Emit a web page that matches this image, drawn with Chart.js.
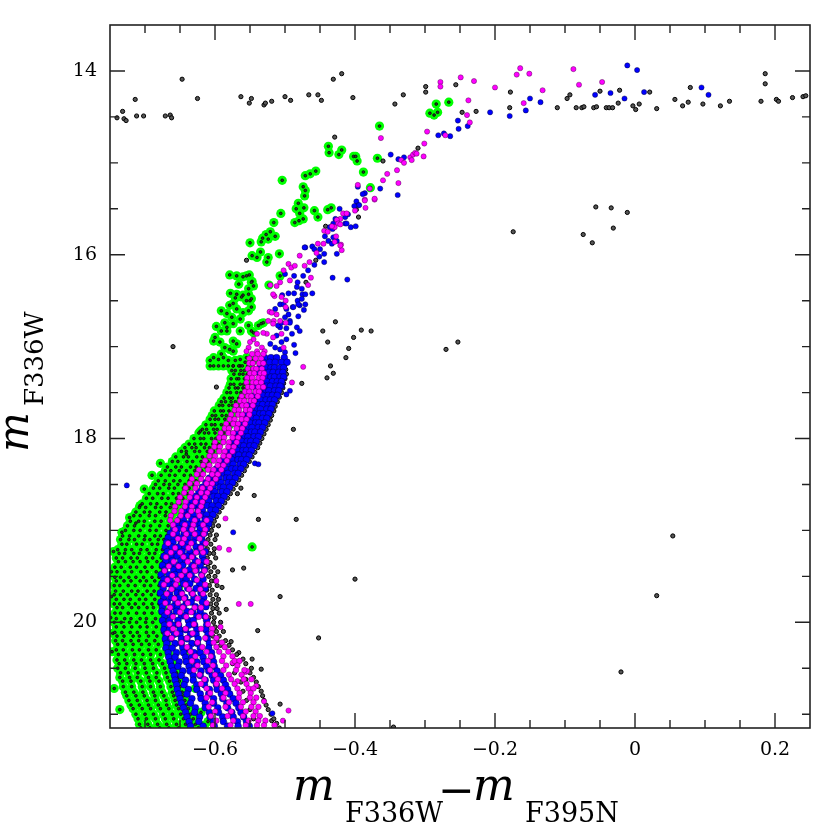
<!DOCTYPE html>
<html><head><meta charset="utf-8">
<script src="https://cdn.jsdelivr.net/npm/chart.js@4.4.0/dist/chart.umd.min.js"></script>
<style>html,body{margin:0;padding:0;background:#fff;}canvas{display:block;}</style>
</head><body>
<canvas id="c" width="830" height="837"></canvas>
<script>
// ---- axis definitions ----
const xRange=[-0.75,0.25];
const yRange=[13.5,21.15];
const xMajorTicks=[-0.6,-0.4,-0.2,0,0.2];
const xTickLabels=['\u22120.6','\u22120.4','\u22120.2','0','0.2'];
const xMinorTicks=[-0.7,-0.65,-0.55,-0.5,-0.45,-0.35,-0.3,-0.25,-0.15,-0.1,-0.05,0.05,0.1,0.15];
const yMajorTicks=[14,16,18,20];
const yTickLabels=['14','16','18','20'];
const yMinorTicks=[14.5,15,15.5,16.5,17,17.5,18.5,19,19.5,20.5,21];

// ---- sparse stars [x,y] ----
const blackPts=[[-0.740,14.51],[-0.732,14.44],[-0.730,14.52],[-0.727,14.54],[-0.714,14.31],[-0.712,14.49],[-0.702,14.49],[-0.671,14.49],[-0.664,14.48],[-0.662,14.51],[-0.647,14.09],[-0.625,14.30],[-0.563,14.28],[-0.551,14.35],[-0.548,14.30],[-0.530,14.37],[-0.528,14.35],[-0.519,14.33],[-0.500,14.28],[-0.492,14.32],[-0.466,14.26],[-0.453,14.26],[-0.448,14.32],[-0.431,14.09],[-0.419,14.03],[-0.403,14.29],[-0.343,14.36],[-0.331,14.26],[-0.299,14.17],[-0.299,14.23],[-0.256,14.15],[-0.247,14.45],[-0.227,14.44],[-0.178,14.23],[-0.179,14.40],[-0.111,14.40],[-0.097,14.30],[-0.093,14.26],[-0.084,14.40],[-0.076,14.40],[-0.073,14.39],[-0.050,14.22],[-0.059,14.40],[-0.055,14.39],[-0.041,14.40],[-0.037,14.40],[-0.032,14.40],[-0.024,14.35],[-0.022,14.21],[-0.003,14.38],[0.001,14.42],[0.006,14.36],[0.021,14.23],[0.031,14.41],[0.057,14.31],[0.068,14.38],[0.076,14.34],[0.079,14.18],[0.097,14.36],[0.122,14.38],[0.135,14.33],[0.180,14.33],[0.186,14.03],[0.186,14.14],[0.202,14.31],[0.205,14.33],[0.225,14.29],[0.240,14.28],[0.244,14.27],
[-0.429,14.72],[-0.360,14.98],[-0.310,14.84],[-0.442,15.69],[-0.395,15.59],[-0.398,15.51],[-0.056,15.48],[-0.034,15.49],[-0.011,15.54],[-0.074,15.78],[-0.061,15.87],[-0.031,15.71],[-0.174,15.75],[-0.555,16.06],[-0.456,16.06],[-0.470,16.30],
[-0.660,17.00],[-0.428,16.73],[-0.446,16.83],[-0.439,16.95],[-0.402,16.90],[-0.409,17.02],[-0.413,17.12],[-0.435,17.21],[-0.440,17.34],[-0.431,17.29],[-0.476,17.40],[-0.488,17.90],[-0.598,17.44],[-0.391,16.82],[-0.377,16.83],[-0.270,17.03],[-0.253,16.95],
[-0.568,18.60],[-0.544,18.62],[-0.538,18.88],[-0.484,18.88],[-0.559,19.41],[-0.575,19.43],[-0.400,19.53],[-0.507,19.72],[-0.539,20.09],[-0.452,20.17],[-0.547,20.40],[-0.534,20.51],[-0.507,20.89],[-0.519,21.07],[0.054,19.06],[0.031,19.71],[-0.020,20.54],[-0.563,18.54],[-0.345,21.14],[-0.590,19.62],[-0.584,19.86],[-0.577,20.21],[-0.566,20.33],[-0.556,20.62]];

const greenPts=[[-0.284,14.36],[-0.293,14.46],[-0.287,14.48],[-0.282,14.45],[-0.266,14.34],[-0.365,14.60],[-0.438,14.82],[-0.437,14.89],[-0.423,14.91],[-0.419,14.86],[-0.402,14.93],[-0.399,14.93],[-0.397,14.98],[-0.368,14.95],[-0.388,15.10],[-0.378,15.27],[-0.504,15.19],[-0.471,15.14],[-0.464,15.12],[-0.456,15.09],[-0.474,15.26],[-0.471,15.30],[-0.472,15.36],[-0.481,15.44],[-0.484,15.50],[-0.473,15.49],[-0.479,15.55],[-0.474,15.61],[-0.486,15.65],[-0.480,15.63],[-0.506,15.55],[-0.458,15.52],[-0.453,15.59],[-0.439,15.51],[-0.434,15.49],[-0.516,15.65],
[-0.521,15.75],[-0.527,15.78],[-0.514,15.80],[-0.532,15.82],[-0.524,15.83],[-0.534,15.86],[-0.550,15.87],[-0.535,15.97],[-0.540,16.03],[-0.547,16.01],[-0.524,16.03],[-0.508,15.99],[-0.526,16.08],[-0.507,16.23],
[-0.579,16.22],[-0.569,16.23],[-0.560,16.24],[-0.551,16.22],[-0.566,16.32],[-0.547,16.29],[-0.545,16.34],[-0.552,16.37],[-0.523,16.33],[-0.555,16.23],[-0.548,16.30],
[-0.578,16.42],[-0.569,16.43],[-0.560,16.44],[-0.552,16.43],[-0.555,16.50],[-0.550,16.50],[-0.562,16.46],[-0.548,16.48],[-0.571,16.47],[-0.591,16.61],[-0.579,16.55],[-0.574,16.53],[-0.569,16.59],[-0.583,16.64],[-0.576,16.68],[-0.564,16.70],[-0.574,16.75],[-0.583,16.79],[-0.598,16.78],[-0.591,16.83],[-0.534,16.75],[-0.560,16.63],[-0.552,16.61],[-0.548,16.57],[-0.586,16.74],[-0.583,16.83],[-0.564,16.83],[-0.545,16.85],[-0.538,16.77],[-0.531,16.74],[-0.552,16.77],[-0.548,16.83],
[-0.600,16.90],[-0.602,16.94],[-0.593,16.95],[-0.586,17.01],[-0.579,17.03],[-0.574,17.05],[-0.574,16.94],[-0.569,16.97],[-0.602,17.12],[-0.595,17.14],[-0.588,17.12],[-0.581,17.15],[-0.571,17.15],[-0.564,17.14],[-0.595,17.21],[-0.602,17.21],[-0.591,17.08],[-0.557,17.17],[-0.550,17.19],[-0.564,17.21],[-0.574,17.21],[-0.581,17.21],[-0.588,17.21],[-0.607,17.15],[-0.607,17.21],[-0.555,17.12],[-0.545,17.15],
[-0.621,17.92],[-0.641,18.17],[-0.678,18.27],[-0.690,18.40],[-0.701,18.55],[-0.707,18.73],[-0.713,18.92],[-0.745,19.23],[-0.547,19.18],[-0.610,21.08],[-0.615,21.12],[-0.620,20.98],[-0.652,19.62],[-0.640,20.31],[-0.628,20.72],
[-0.748,19.45],[-0.749,19.95],[-0.747,20.32],[-0.744,20.72],[-0.736,20.95],[-0.748,19.72],[-0.746,20.12],[-0.722,18.86],[-0.733,19.02]];

const magentaPts=[[-0.278,14.12],[-0.278,14.17],[-0.249,14.07],[-0.230,14.11],[-0.238,14.32],[-0.240,14.48],[-0.236,14.56],[-0.271,14.70],[-0.200,14.18],[-0.169,14.04],[-0.164,13.97],[-0.151,14.03],[-0.159,14.35],[-0.132,14.21],[-0.088,13.98],[-0.080,14.15],[-0.047,14.12],
[-0.363,14.73],[-0.334,14.97],[-0.330,15.00],[-0.321,14.94],[-0.317,14.91],[-0.314,14.89],[-0.319,14.97],[-0.312,14.90],[-0.301,14.79],[-0.297,14.66],[-0.302,14.93],
[-0.396,15.24],[-0.379,15.28],[-0.360,15.19],[-0.354,15.12],[-0.340,15.08],[-0.338,15.22],[-0.386,15.40],[-0.372,15.40],[-0.372,15.39],[-0.386,15.41],[-0.385,15.49],[-0.400,15.52],[-0.417,15.55],[-0.412,15.55],[-0.421,15.61],[-0.426,15.62],[-0.424,15.66],[-0.421,15.67],[-0.429,15.70],[-0.433,15.69],[-0.444,15.74],[-0.439,15.75],[-0.427,15.80],[-0.429,15.86],[-0.420,15.89],[-0.419,15.95],[-0.445,15.88],[-0.453,15.88],[-0.455,15.98],[-0.421,15.90],
[-0.465,16.08],[-0.479,16.01],[-0.472,16.12],[-0.463,16.25],[-0.495,16.10],[-0.502,16.17],[-0.491,16.14],[-0.486,16.12],[-0.493,16.28],[-0.507,16.30],[-0.512,16.34],[-0.521,16.33],[-0.467,16.33],[-0.515,16.45],[-0.499,16.50],[-0.499,16.57],[-0.522,16.62],[-0.516,16.72],[-0.507,16.72],[-0.499,16.74],[-0.517,16.75],[-0.517,16.43],[-0.505,16.46],[-0.512,16.65],[-0.519,16.63],[-0.524,16.72],
[-0.517,16.90],[-0.526,16.86],[-0.531,16.85],[-0.540,16.86],[-0.545,16.92],[-0.550,16.95],[-0.540,16.97],[-0.533,17.01],[-0.529,17.05],[-0.540,17.05],[-0.552,17.01],[-0.555,17.05],[-0.502,17.01],[-0.505,16.86],[-0.474,17.22],[-0.490,17.39],
[-0.585,18.87],[-0.580,19.21],[-0.594,19.19],[-0.566,19.80],[-0.549,19.80],[-0.568,20.64],[-0.556,20.54],[-0.554,20.53],[-0.541,20.69],[-0.530,20.86],[-0.495,20.96],[-0.503,21.07],[-0.598,19.55],[-0.592,20.05],[-0.575,20.44]];

const bluePts=[[-0.253,14.54],[-0.252,14.63],[-0.239,14.60],[-0.207,14.45],[-0.179,14.49],[-0.156,14.43],[-0.150,14.30],[-0.135,14.34],[-0.057,14.26],[-0.035,14.24],[-0.015,14.30],[-0.011,13.94],[0.003,13.99],[0.013,14.23],[0.095,14.18],[0.105,14.26],
[-0.349,14.91],[-0.338,14.96],[-0.330,14.94],[-0.281,14.70],[-0.273,14.68],[-0.264,14.71],
[-0.396,15.26],[-0.386,15.33],[-0.389,15.34],[-0.364,15.28],[-0.339,15.35],[-0.398,15.42],[-0.395,15.46],[-0.394,15.46],[-0.401,15.47],[-0.422,15.50],[-0.410,15.56],[-0.414,15.59],[-0.428,15.61],[-0.414,15.66],[-0.431,15.66],[-0.436,15.70],[-0.432,15.72],[-0.412,15.66],[-0.406,15.70],[-0.399,15.69],[-0.443,15.80],[-0.438,15.85],[-0.431,15.81],[-0.426,15.85],[-0.433,15.88],[-0.426,15.99],[-0.450,15.94],[-0.444,15.99],[-0.451,16.02],[-0.461,15.91],[-0.471,15.92],[-0.458,15.94],[-0.472,15.92],
[-0.467,16.17],[-0.474,16.23],[-0.458,16.11],[-0.444,16.08],[-0.411,16.27],[-0.432,16.25],[-0.500,16.21],[-0.487,16.23],[-0.482,16.30],[-0.483,16.35],[-0.476,16.37],[-0.504,16.44],[-0.495,16.42],[-0.487,16.42],[-0.475,16.43],[-0.461,16.42],[-0.482,16.50],[-0.507,16.54],[-0.489,16.57],[-0.479,16.55],[-0.471,16.54],[-0.473,16.60],[-0.514,16.59],[-0.493,16.72],[-0.481,16.67],[-0.507,16.79],[-0.498,16.80],
[-0.502,16.54],[-0.498,16.59],[-0.510,16.77],[-0.505,16.74],[-0.500,16.68],[-0.495,16.65],[-0.488,16.57],[-0.481,16.54],[-0.476,16.48],[-0.471,16.43],[-0.493,16.74],[-0.483,16.79],[-0.479,16.83],[-0.490,16.86],[-0.498,16.92],[-0.505,16.95],[-0.512,16.88],[-0.521,16.97],[-0.514,17.01],[-0.507,17.03],[-0.500,17.06],[-0.487,16.98],[-0.485,17.07],[-0.493,17.48],[-0.498,17.52],[-0.504,17.43],
[-0.543,18.27],[-0.538,18.28],[-0.726,18.51],[-0.574,19.02],[-0.518,20.99]];

// ---- dense main sequence: rows of [magnitude, colour values] ----
const greenRows=[
[17.21,[-0.574,-0.566,-0.561,-0.553]],[17.26,[-0.576,-0.571,-0.563,-0.558,-0.551]],[17.30,[-0.573,-0.565,-0.560,-0.554]],[17.35,[-0.577,-0.569,-0.566,-0.558,-0.552]],[17.41,[-0.578,-0.573,-0.564,-0.559,-0.553]],[17.45,[-0.580,-0.571,-0.567,-0.560,-0.555]],[17.50,[-0.583,-0.578,-0.569,-0.563,-0.557]],[17.56,[-0.587,-0.579,-0.575,-0.566,-0.560]],[17.60,[-0.591,-0.585,-0.577,-0.571,-0.564]],[17.64,[-0.594,-0.589,-0.580,-0.575,-0.567]],[17.70,[-0.601,-0.592,-0.588,-0.580,-0.573,-0.569]],[17.75,[-0.604,-0.599,-0.590,-0.584,-0.576]],[17.79,[-0.607,-0.600,-0.595,-0.586,-0.579,-0.575]],[17.85,[-0.613,-0.605,-0.600,-0.591,-0.585,-0.579]],[17.90,[-0.618,-0.612,-0.602,-0.597,-0.588,-0.583]],[17.94,[-0.623,-0.615,-0.609,-0.600,-0.593,-0.587]],
[18.00,[-0.630,-0.621,-0.616,-0.605,-0.599,-0.591]],[18.06,[-0.637,-0.629,-0.620,-0.613,-0.603,-0.595]],[18.10,[-0.643,-0.633,-0.627,-0.615,-0.608,-0.598]],[18.14,[-0.648,-0.641,-0.629,-0.622,-0.611,-0.602]],[18.20,[-0.656,-0.645,-0.638,-0.626,-0.618,-0.608]],[18.25,[-0.661,-0.653,-0.640,-0.632,-0.620,-0.610]],[18.31,[-0.668,-0.656,-0.648,-0.635,-0.627,-0.614]],[18.35,[-0.671,-0.663,-0.651,-0.641,-0.629,-0.619]],[18.40,[-0.677,-0.665,-0.657,-0.644,-0.635,-0.622]],[18.46,[-0.681,-0.671,-0.659,-0.650,-0.637,-0.627]],[18.50,[-0.685,-0.673,-0.665,-0.653,-0.643,-0.632]],[18.54,[-0.688,-0.679,-0.666,-0.658,-0.645,-0.637]],[18.60,[-0.694,-0.682,-0.674,-0.660,-0.652,-0.640]],[18.65,[-0.698,-0.689,-0.676,-0.667,-0.655,-0.646]],[18.71,[-0.704,-0.692,-0.683,-0.670,-0.662,-0.650]],[18.75,[-0.708,-0.699,-0.685,-0.677,-0.664,-0.655]],[18.80,[-0.713,-0.701,-0.693,-0.679,-0.670,-0.657]],[18.84,[-0.716,-0.707,-0.694,-0.685,-0.671,-0.662]],[18.90,[-0.721,-0.709,-0.701,-0.686,-0.677,-0.664]],[18.95,[-0.725,-0.715,-0.702,-0.692,-0.679,-0.667]],
[19.00,[-0.728,-0.716,-0.707,-0.693,-0.684,-0.670]],[19.06,[-0.732,-0.722,-0.709,-0.700,-0.686,-0.678,-0.669]],[19.10,[-0.735,-0.723,-0.715,-0.701,-0.693,-0.681,-0.673]],[19.15,[-0.733,-0.726,-0.712,-0.704,-0.690,-0.682,-0.670]],[19.21,[-0.739,-0.728,-0.719,-0.706,-0.697,-0.684,-0.675]],[19.25,[-0.737,-0.729,-0.716,-0.708,-0.694,-0.686,-0.672]],[19.30,[-0.741,-0.732,-0.720,-0.711,-0.698,-0.689,-0.677]],[19.34,[-0.738,-0.728,-0.717,-0.707,-0.696,-0.683,-0.674]],[19.40,[-0.743,-0.734,-0.721,-0.712,-0.700,-0.690,-0.678]],[19.45,[-0.740,-0.729,-0.719,-0.706,-0.697,-0.684,-0.675]],[19.51,[-0.743,-0.735,-0.723,-0.713,-0.702,-0.690,-0.680]],[19.55,[-0.741,-0.730,-0.720,-0.707,-0.698,-0.686,-0.676]],[19.60,[-0.744,-0.736,-0.724,-0.714,-0.701,-0.692,-0.680]],[19.66,[-0.742,-0.731,-0.719,-0.710,-0.697,-0.687,-0.677]],[19.70,[-0.744,-0.735,-0.725,-0.713,-0.703,-0.691,-0.681]],[19.75,[-0.741,-0.730,-0.721,-0.708,-0.699,-0.686,-0.676]],[19.80,[-0.744,-0.736,-0.723,-0.714,-0.702,-0.690,-0.680]],[19.84,[-0.740,-0.732,-0.719,-0.709,-0.697,-0.688,-0.675]],[19.90,[-0.743,-0.735,-0.724,-0.712,-0.701,-0.690,-0.678]],[19.96,[-0.741,-0.729,-0.720,-0.707,-0.698,-0.685,-0.674]],
[20.00,[-0.744,-0.734,-0.722,-0.712,-0.699,-0.689,-0.676]],[20.05,[-0.741,-0.730,-0.719,-0.707,-0.697,-0.684,-0.673]],[20.11,[-0.743,-0.733,-0.721,-0.711,-0.698,-0.688,-0.675]],[20.15,[-0.740,-0.730,-0.717,-0.708,-0.695,-0.683,-0.671]],[20.20,[-0.742,-0.732,-0.720,-0.709,-0.698,-0.686,-0.673]],[20.24,[-0.739,-0.728,-0.717,-0.705,-0.694,-0.681,-0.669]],[20.30,[-0.741,-0.731,-0.718,-0.708,-0.695,-0.684,-0.670]],[20.35,[-0.738,-0.727,-0.715,-0.703,-0.692,-0.678,-0.666]],[20.41,[-0.740,-0.729,-0.716,-0.705,-0.692,-0.680,-0.664]],[20.45,[-0.737,-0.726,-0.713,-0.701,-0.689,-0.675,-0.661]],[20.50,[-0.739,-0.728,-0.714,-0.700,-0.688,-0.672,-0.658]],[20.55,[-0.735,-0.724,-0.710,-0.698,-0.683,-0.670,-0.655]],[20.60,[-0.736,-0.722,-0.711,-0.695,-0.684,-0.668,-0.653]],[20.64,[-0.732,-0.720,-0.706,-0.693,-0.680,-0.665,-0.651]],[20.70,[-0.731,-0.719,-0.704,-0.692,-0.678,-0.663,-0.650]],[20.76,[-0.728,-0.716,-0.703,-0.688,-0.676,-0.661,-0.647]],[20.80,[-0.726,-0.713,-0.701,-0.686,-0.673,-0.659,-0.645]],[20.85,[-0.723,-0.711,-0.697,-0.685,-0.670,-0.657,-0.643]],[20.90,[-0.720,-0.708,-0.695,-0.681,-0.669,-0.655,-0.641]],[20.94,[-0.717,-0.704,-0.692,-0.678,-0.666,-0.652,-0.638]],[21.00,[-0.713,-0.700,-0.688,-0.674,-0.661,-0.649,-0.635]],[21.05,[-0.710,-0.698,-0.685,-0.671,-0.659,-0.645,-0.631]],[21.11,[-0.708,-0.696,-0.682,-0.669,-0.655,-0.642,-0.628]],[21.15,[-0.706,-0.693,-0.679,-0.666,-0.652,-0.638,-0.624]]];

const magentaRows=[
[17.08,[-0.547,-0.539,-0.531]],[17.13,[-0.551,-0.542,-0.534]],[17.18,[-0.551,-0.546,-0.537,-0.531]],[17.24,[-0.553,-0.545,-0.541,-0.533]],[17.29,[-0.550,-0.544,-0.535,-0.530]],[17.34,[-0.554,-0.547,-0.538,-0.532]],[17.39,[-0.555,-0.546,-0.541,-0.534]],[17.44,[-0.553,-0.547,-0.538,-0.531]],[17.49,[-0.557,-0.551,-0.542,-0.537]],[17.54,[-0.562,-0.553,-0.548,-0.539]],[17.59,[-0.564,-0.558,-0.549,-0.544]],[17.64,[-0.570,-0.561,-0.555,-0.546]],[17.69,[-0.572,-0.566,-0.556,-0.550]],[17.74,[-0.577,-0.567,-0.561,-0.551]],[17.79,[-0.579,-0.572,-0.562,-0.555]],[17.84,[-0.584,-0.574,-0.567,-0.557]],[17.89,[-0.586,-0.580,-0.569,-0.561]],[17.94,[-0.592,-0.581,-0.574,-0.563]],[17.99,[-0.594,-0.587,-0.575,-0.567]],
[18.04,[-0.600,-0.588,-0.580,-0.569]],[18.09,[-0.601,-0.593,-0.581,-0.573]],[18.14,[-0.606,-0.594,-0.586,-0.575]],[18.19,[-0.608,-0.600,-0.588,-0.580]],[18.24,[-0.614,-0.602,-0.594,-0.583]],[18.29,[-0.617,-0.608,-0.596,-0.588]],[18.34,[-0.623,-0.610,-0.602,-0.591]],[18.39,[-0.626,-0.617,-0.604,-0.596]],[18.44,[-0.633,-0.620,-0.610,-0.599]],[18.49,[-0.636,-0.626,-0.612,-0.604]],[18.54,[-0.642,-0.628,-0.618,-0.607]],[18.59,[-0.644,-0.634,-0.620,-0.611]],[18.64,[-0.650,-0.636,-0.626,-0.614]],[18.69,[-0.652,-0.642,-0.628,-0.618]],[18.74,[-0.657,-0.643,-0.633,-0.620]],[18.79,[-0.658,-0.648,-0.634,-0.624]],[18.84,[-0.663,-0.649,-0.639,-0.622]],[18.89,[-0.664,-0.654,-0.629,-0.612]],[18.94,[-0.660,-0.643,-0.631,-0.617]],[18.99,[-0.657,-0.645,-0.633,-0.614]],
[19.04,[-0.660,-0.641,-0.629,-0.616]],[19.09,[-0.653,-0.644,-0.622]],[19.14,[-0.667,-0.647,-0.634,-0.613]],[19.19,[-0.657,-0.638,-0.620]],[19.24,[-0.663,-0.650,-0.627,-0.617]],[19.29,[-0.670,-0.645,-0.633]],[19.34,[-0.659,-0.639,-0.624,-0.612]],[19.39,[-0.666,-0.652,-0.630]],[19.44,[-0.672,-0.643,-0.628,-0.615]],[19.49,[-0.661,-0.648,-0.636,-0.619]],[19.54,[-0.668,-0.654,-0.626]],[19.59,[-0.673,-0.656,-0.642,-0.614]],[19.64,[-0.662,-0.637,-0.621]],[19.69,[-0.669,-0.647,-0.632,-0.617]],[19.74,[-0.658,-0.644,-0.625]],[19.79,[-0.671,-0.653,-0.639,-0.612]],[19.84,[-0.664,-0.646,-0.629,-0.620]],[19.89,[-0.668,-0.650,-0.634]],[19.94,[-0.660,-0.641,-0.623,-0.613]],
[20.02,[-0.665,-0.652,-0.630,-0.610]],[20.07,[-0.660,-0.642,-0.620,-0.604]],[20.12,[-0.668,-0.655,-0.632,-0.605]],[20.17,[-0.662,-0.640,-0.614,-0.598]],[20.22,[-0.648,-0.625,-0.602,-0.590]],[20.27,[-0.640,-0.618,-0.598,-0.586]],[20.32,[-0.635,-0.612,-0.594,-0.581]],[20.37,[-0.628,-0.606,-0.588,-0.575]],[20.42,[-0.633,-0.610,-0.590,-0.572,-0.565]],[20.47,[-0.625,-0.603,-0.584,-0.568]],[20.52,[-0.630,-0.607,-0.588,-0.570,-0.558]],[20.57,[-0.622,-0.600,-0.580,-0.562]],[20.62,[-0.615,-0.596,-0.577,-0.559,-0.548]],[20.67,[-0.620,-0.598,-0.572,-0.555]],[20.72,[-0.612,-0.590,-0.568,-0.552,-0.545]],[20.77,[-0.607,-0.585,-0.565,-0.549]],[20.82,[-0.612,-0.588,-0.566,-0.550,-0.541]],[20.87,[-0.604,-0.580,-0.560,-0.545]],[20.92,[-0.609,-0.585,-0.563,-0.548,-0.538]],[20.97,[-0.600,-0.577,-0.556,-0.542]],[21.02,[-0.606,-0.582,-0.560,-0.545,-0.536]],[21.07,[-0.598,-0.574,-0.552,-0.538,-0.528]],[21.12,[-0.603,-0.578,-0.556,-0.540,-0.530,-0.515]]];

const blueRows=[
[17.12,[-0.529,-0.520,-0.512,-0.501]],[17.17,[-0.531,-0.522,-0.514,-0.505,-0.497]],[17.23,[-0.536,-0.527,-0.520,-0.515,-0.507,-0.502]],[17.28,[-0.537,-0.531,-0.523,-0.517,-0.509,-0.503]],[17.33,[-0.535,-0.529,-0.520,-0.515,-0.507,-0.502]],[17.38,[-0.538,-0.531,-0.526,-0.518,-0.511,-0.505]],[17.43,[-0.540,-0.532,-0.526,-0.521,-0.513,-0.507]],[17.48,[-0.541,-0.536,-0.527,-0.523,-0.515,-0.509]],[17.53,[-0.543,-0.537,-0.532,-0.524,-0.518,-0.511]],[17.58,[-0.546,-0.540,-0.535,-0.527,-0.521,-0.515]],[17.63,[-0.550,-0.543,-0.537,-0.532,-0.524,-0.518]],[17.68,[-0.553,-0.548,-0.539,-0.535,-0.526,-0.520]],[17.73,[-0.556,-0.549,-0.544,-0.536,-0.531,-0.523]],[17.78,[-0.559,-0.554,-0.545,-0.541,-0.532,-0.526]],[17.83,[-0.562,-0.555,-0.550,-0.542,-0.537,-0.529]],[17.88,[-0.565,-0.560,-0.551,-0.547,-0.538,-0.532]],[17.93,[-0.568,-0.561,-0.556,-0.548,-0.543,-0.535]],[17.98,[-0.571,-0.566,-0.557,-0.553,-0.544,-0.538]],
[18.03,[-0.574,-0.567,-0.562,-0.554,-0.549,-0.541]],[18.08,[-0.577,-0.572,-0.563,-0.559,-0.550,-0.544]],[18.13,[-0.580,-0.573,-0.568,-0.560,-0.555,-0.548]],[18.18,[-0.584,-0.579,-0.570,-0.566,-0.557,-0.551]],[18.23,[-0.588,-0.581,-0.576,-0.567,-0.562,-0.555]],[18.28,[-0.593,-0.588,-0.578,-0.574,-0.564,-0.559]],[18.33,[-0.598,-0.590,-0.585,-0.576,-0.570,-0.563]],[18.38,[-0.603,-0.597,-0.587,-0.582,-0.572,-0.567]],[18.43,[-0.608,-0.599,-0.594,-0.584,-0.579,-0.571]],[18.48,[-0.613,-0.606,-0.596,-0.591,-0.581,-0.575]],[18.53,[-0.618,-0.609,-0.603,-0.593,-0.588,-0.579]],[18.58,[-0.623,-0.616,-0.605,-0.600,-0.590,-0.583]],[18.63,[-0.628,-0.619,-0.612,-0.602,-0.596,-0.587]],[18.68,[-0.633,-0.626,-0.615,-0.609,-0.598,-0.591]],[18.73,[-0.638,-0.629,-0.622,-0.611,-0.604,-0.595]],[18.78,[-0.643,-0.636,-0.624,-0.618,-0.606,-0.599]],[18.83,[-0.647,-0.638,-0.631,-0.619,-0.612,-0.603]],[18.88,[-0.651,-0.645,-0.633,-0.626,-0.614,-0.607]],[18.93,[-0.655,-0.646,-0.639,-0.627,-0.620,-0.609]],[18.98,[-0.659,-0.652,-0.640,-0.633,-0.621,-0.612]],
[19.03,[-0.664,-0.655,-0.644,-0.636,-0.625,-0.615]],[19.08,[-0.667,-0.658,-0.649,-0.638,-0.628,-0.619]],[19.13,[-0.669,-0.660,-0.648,-0.641,-0.631,-0.617]],[19.18,[-0.671,-0.662,-0.652,-0.643,-0.627,-0.620]],[19.23,[-0.668,-0.656,-0.647,-0.636,-0.626,-0.614]],[19.28,[-0.673,-0.663,-0.654,-0.640,-0.632,-0.618]],[19.33,[-0.670,-0.661,-0.649,-0.642,-0.628,-0.616]],[19.38,[-0.675,-0.664,-0.655,-0.646,-0.633,-0.621]],[19.43,[-0.672,-0.659,-0.651,-0.637,-0.627,-0.615]],[19.48,[-0.677,-0.666,-0.657,-0.644,-0.634,-0.619]],[19.53,[-0.673,-0.664,-0.650,-0.641,-0.629,-0.617]],[19.58,[-0.676,-0.667,-0.658,-0.645,-0.636,-0.622]],[19.63,[-0.674,-0.661,-0.652,-0.639,-0.627,-0.614]],[19.68,[-0.678,-0.665,-0.654,-0.648,-0.633,-0.620]],[19.73,[-0.673,-0.663,-0.651,-0.643,-0.630,-0.616]],[19.78,[-0.677,-0.668,-0.656,-0.641,-0.634,-0.618]],[19.83,[-0.675,-0.660,-0.653,-0.645,-0.628,-0.613]],[19.88,[-0.676,-0.666,-0.655,-0.640,-0.632,-0.621]],[19.93,[-0.672,-0.662,-0.648,-0.643,-0.626,-0.615]],[19.98,[-0.675,-0.665,-0.653,-0.638,-0.631,-0.612]],
[20.03,[-0.672,-0.660,-0.652,-0.637,-0.629,-0.612]],[20.08,[-0.673,-0.665,-0.650,-0.642,-0.626,-0.613]],[20.13,[-0.670,-0.658,-0.650,-0.635,-0.627,-0.610]],[20.18,[-0.671,-0.663,-0.648,-0.640,-0.624,-0.611]],[20.23,[-0.669,-0.657,-0.648,-0.633,-0.625,-0.608]],[20.28,[-0.670,-0.661,-0.646,-0.637,-0.621,-0.609]],[20.33,[-0.667,-0.655,-0.645,-0.630,-0.621,-0.605]],[20.38,[-0.666,-0.657,-0.642,-0.633,-0.617,-0.604]],[20.43,[-0.664,-0.651,-0.641,-0.626,-0.616,-0.602]],[20.48,[-0.662,-0.653,-0.637,-0.628,-0.612,-0.601]],[20.53,[-0.660,-0.646,-0.636,-0.620,-0.609,-0.597]],[20.58,[-0.658,-0.648,-0.631,-0.621,-0.604,-0.592]],[20.63,[-0.657,-0.642,-0.631,-0.614,-0.602,-0.588]],[20.68,[-0.655,-0.644,-0.626,-0.615,-0.598,-0.585]],[20.73,[-0.654,-0.638,-0.626,-0.608,-0.597,-0.582]],[20.78,[-0.652,-0.640,-0.621,-0.609,-0.591,-0.579]],[20.83,[-0.650,-0.633,-0.620,-0.602,-0.589,-0.574]],[20.88,[-0.648,-0.635,-0.614,-0.602,-0.583,-0.570]],[20.93,[-0.645,-0.628,-0.614,-0.596,-0.582,-0.566]],[20.98,[-0.642,-0.629,-0.608,-0.595,-0.576,-0.563]],[21.03,[-0.640,-0.622,-0.607,-0.589,-0.574,-0.559]],[21.08,[-0.637,-0.623,-0.602,-0.588,-0.568,-0.555]],[21.13,[-0.635,-0.617,-0.601,-0.582,-0.567,-0.551]]];

const blackRows=[
[17.20,[-0.500]],[17.25,[-0.499]],[17.30,[-0.498,-0.505]],[17.35,[-0.500]],[17.40,[-0.502]],[17.45,[-0.503,-0.512]],[17.50,[-0.505]],[17.55,[-0.508]],[17.60,[-0.511,-0.520]],[17.65,[-0.514]],[17.70,[-0.516]],[17.75,[-0.519,-0.528]],[17.80,[-0.521]],[17.85,[-0.524]],[17.90,[-0.527,-0.536]],[17.95,[-0.530]],
[18.00,[-0.533]],[18.05,[-0.536,-0.545]],[18.10,[-0.539]],[18.15,[-0.543]],[18.20,[-0.547,-0.556]],[18.25,[-0.551]],[18.30,[-0.555]],[18.35,[-0.558,-0.567]],[18.40,[-0.562]],[18.45,[-0.566]],[18.50,[-0.570,-0.579]],[18.55,[-0.574]],[18.60,[-0.578]],[18.65,[-0.582,-0.592]],[18.70,[-0.586]],[18.75,[-0.590]],[18.80,[-0.594,-0.603]],[18.85,[-0.598]],[18.90,[-0.601]],[18.95,[-0.603,-0.595]],
[19.00,[-0.605,-0.612]],[19.05,[-0.607,-0.598]],[19.10,[-0.610,-0.600]],[19.15,[-0.606,-0.613]],[19.20,[-0.611,-0.601]],[19.25,[-0.608,-0.602]],[19.30,[-0.611,-0.599]],[19.35,[-0.607,-0.614]],[19.40,[-0.610,-0.601]],[19.45,[-0.606,-0.596]],[19.50,[-0.609,-0.600]],[19.55,[-0.605,-0.600]],[19.60,[-0.608,-0.597]],[19.65,[-0.604,-0.612]],[19.70,[-0.607,-0.598]],[19.75,[-0.603,-0.595]],[19.80,[-0.606,-0.598]],[19.85,[-0.603,-0.597]],[19.90,[-0.605,-0.594]],[19.95,[-0.601,-0.609]],
[20.00,[-0.602,-0.592]],[20.05,[-0.600,-0.593]],[20.10,[-0.598,-0.588]],[20.15,[-0.594,-0.603]],[20.20,[-0.585,-0.597]],[20.25,[-0.580,-0.592]],[20.30,[-0.575]],[20.35,[-0.569]],[20.40,[-0.560]],[20.45,[-0.556,-0.575]],[20.50,[-0.548]],[20.55,[-0.550,-0.572]],[20.60,[-0.545]],[20.65,[-0.541,-0.563]],[20.70,[-0.538]],[20.75,[-0.534,-0.560]],[20.80,[-0.532]],[20.85,[-0.530,-0.555]],[20.90,[-0.527]],[20.95,[-0.524,-0.550]],[21.00,[-0.520]],[21.05,[-0.516,-0.545]],[21.10,[-0.512]],[21.15,[-0.508,-0.540]]];

// ---- build point lists ----
const fromPairs=a=>a.map(([x,y])=>({x,y}));
const fromRows=r=>r.flatMap(([y,xs])=>xs.map(x=>({x,y})));
const greenData=fromPairs(greenPts).concat(fromRows(greenRows));
const magentaData=fromPairs(magentaPts).concat(fromRows(magentaRows));
const blueData=fromPairs(bluePts).concat(fromRows(blueRows));
const blackData=fromPairs(blackPts).concat(fromRows(blackRows));
const nBlueSparse=bluePts.length, nMagSparse=magentaPts.length;

const axesPlugin={
  id:'axesFrame',
  afterDatasetsDraw(chart){
    const {ctx,chartArea:a,scales:{x,y}}=chart;
    ctx.save();
    ctx.strokeStyle='#222';ctx.lineWidth=1.6;
    ctx.strokeRect(a.left,a.top,a.right-a.left,a.bottom-a.top);
    ctx.lineWidth=1.4;ctx.beginPath();
    const tx=(v,len)=>{const p=x.getPixelForValue(v);ctx.moveTo(p,a.bottom);ctx.lineTo(p,a.bottom-len);ctx.moveTo(p,a.top);ctx.lineTo(p,a.top+len);};
    const ty=(v,len)=>{const p=y.getPixelForValue(v);ctx.moveTo(a.left,p);ctx.lineTo(a.left+len,p);ctx.moveTo(a.right,p);ctx.lineTo(a.right-len,p);};
    xMajorTicks.forEach(v=>tx(v,15));xMinorTicks.forEach(v=>tx(v,8));
    yMajorTicks.forEach(v=>ty(v,15));yMinorTicks.forEach(v=>ty(v,8));
    ctx.stroke();
    ctx.fillStyle='#000';
    ctx.font='19px "DejaVu Serif"';
    ctx.textAlign='center';ctx.textBaseline='top';
    xMajorTicks.forEach((v,i)=>ctx.fillText(xTickLabels[i],x.getPixelForValue(v),741));
    ctx.textAlign='right';ctx.textBaseline='middle';
    yMajorTicks.forEach((v,i)=>ctx.fillText(yTickLabels[i],97,y.getPixelForValue(v)));
    ctx.textAlign='left';ctx.textBaseline='alphabetic';
    ctx.font='italic 44px "DejaVu Serif"';
    ctx.fillText('m',293,800);
    ctx.fillText('m',473,800);
    ctx.font='44px "DejaVu Serif"';
    ctx.fillText('\u2212',438,805);
    ctx.font='27px "DejaVu Serif"';
    ctx.fillText('F336W',345,822);
    ctx.fillText('F395N',525,822);
    ctx.save();ctx.translate(28,452);ctx.rotate(-Math.PI/2);
    ctx.font='italic 42px "DejaVu Serif"';ctx.fillText('m',0,0);ctx.restore();
    ctx.save();ctx.translate(43,406);ctx.rotate(-Math.PI/2);
    ctx.font='26px "DejaVu Serif"';ctx.fillText('F336W',0,0);ctx.restore();
    ctx.restore();
  }
};

new Chart(document.getElementById('c'),{
  type:'scatter',
  data:{datasets:[
    {label:'magenta',data:magentaData,order:1,pointRadius:c=>c.dataIndex<nMagSparse?2.6:2.8,pointBackgroundColor:'#ff00ff',pointBorderColor:'rgba(60,0,60,0.7)',pointBorderWidth:0.6},
    {label:'blue',data:blueData,order:2,pointRadius:c=>c.dataIndex<nBlueSparse?2.6:3.4,pointBackgroundColor:'#0000ff',pointBorderColor:'rgba(0,0,40,0.7)',pointBorderWidth:0.6},
    {label:'black',data:blackData,order:3,pointRadius:2.1,pointBackgroundColor:'#555',pointBorderColor:'#000',pointBorderWidth:1},
    {label:'green core',data:greenData,order:4,pointRadius:1.4,pointBackgroundColor:'#333',pointBorderColor:'#000',pointBorderWidth:0.7},
    {label:'green',data:greenData,order:5,pointRadius:4.6,pointBackgroundColor:'#00ff00',pointBorderWidth:0}
  ]},
  options:{
    responsive:false,animation:false,devicePixelRatio:1,
    layout:{padding:{left:110,right:20,top:25,bottom:109}},
    plugins:{legend:{display:false},tooltip:{enabled:false}},
    scales:{
      x:{type:'linear',min:xRange[0],max:xRange[1],display:false},
      y:{type:'linear',min:yRange[0],max:yRange[1],reverse:true,display:false}
    }
  },
  plugins:[axesPlugin]
});
</script>
</body></html>
